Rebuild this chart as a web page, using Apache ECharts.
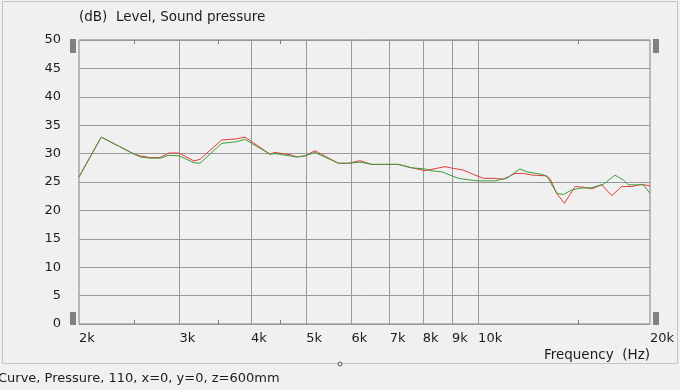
<!DOCTYPE html>
<html>
<head>
<meta charset="utf-8">
<script src="https://cdn.jsdelivr.net/npm/echarts@6/dist/echarts.min.js"></script>
<style>
html,body{margin:0;padding:0;background:#f0f0f0;}
#c{width:680px;height:390px;}
</style>
</head>
<body>
<div id="c"></div>
<script>
// Frequencies (Hz) and levels (dB)
var greenFreq = [2000, 2188, 2500, 2564, 2662, 2772, 2874, 2994, 3180, 3258, 3556, 3778, 3906, 4320, 4408, 4684, 4812, 4976, 5180, 5692, 5926, 6212, 6510, 7248, 7650, 8072, 8238, 8636, 8930, 9234, 9680, 10008, 10706, 11222, 11840, 12164, 12836, 13188, 13730, 14102, 14588, 15084, 15812, 16568, 17368, 17960, 18324, 19468, 20000];
var greenLevel = [25.9, 32.9, 29.9, 29.4, 29.2, 29.2, 29.7, 29.6, 28.4, 28.3, 31.8, 32.1, 32.5, 29.9, 30.0, 29.6, 29.4, 29.6, 30.2, 28.3, 28.3, 28.5, 28.1, 28.1, 27.5, 27.3, 27.0, 26.8, 26.2, 25.65, 25.35, 25.2, 25.2, 25.65, 27.3, 26.8, 26.4, 26.1, 23.0, 22.8, 23.6, 23.9, 24.0, 24.6, 26.2, 25.35, 24.5, 24.5, 23.0];
var redFreq = [2000, 2188, 2500, 2558, 2662, 2772, 2874, 2994, 3180, 3258, 3556, 3778, 3906, 4320, 4408, 4684, 4812, 4976, 5180, 5692, 5926, 6212, 6510, 7248, 7650, 8072, 8750, 9050, 9420, 9806, 10210, 10632, 11070, 11604, 12000, 12494, 13096, 13362, 13730, 14158, 14786, 15290, 15812, 16462, 17140, 17844, 18580, 19344, 20000];
var redLevel = [25.9, 32.9, 29.9, 29.6, 29.3, 29.3, 30.1, 30.1, 28.7, 29.0, 32.4, 32.6, 32.9, 29.9, 30.2, 29.8, 29.4, 29.6, 30.5, 28.3, 28.3, 28.75, 28.1, 28.1, 27.5, 27.0, 27.7, 27.4, 27.1, 26.35, 25.65, 25.65, 25.5, 26.5, 26.5, 26.2, 26.1, 25.6, 23.0, 21.25, 24.2, 24.1, 23.8, 24.5, 22.6, 24.2, 24.2, 24.6, 24.3];

var xLabelValues = [2000, 3000, 4000, 5000, 6000, 7000, 8000, 9000, 10000, 20000];
var xGridValues = [3000, 4000, 5000, 6000, 7000, 8000, 9000, 10000];
var xMinorTicks = [2500, 3500, 4500, 15000];
var yMin = 0, yMax = 50, yStep = 5;

var titleText = '(dB)  Level, Sound pressure';
var xAxisName = 'Frequency  (Hz)';
var footerText = 'Curve, Pressure, 110, x=0, y=0, z=600mm';

function zip(a, b) { return a.map(function (v, i) { return [v, b[i]]; }); }

var FONT = 'DejaVu Sans';
var TXT = '#1c1c1c';
var GRID = '#989898';

var chart = echarts.init(document.getElementById('c'), null, {renderer: 'canvas'});
var baseX = {type: 'log', logBase: 10, min: 2000, max: 20000, gridIndex: 0};
chart.setOption({
  backgroundColor: '#f0f0f0',
  animation: false,
  grid: {left: 79, right: 30, top: 40, bottom: 66, show: true, borderColor: '#808080', borderWidth: 1, backgroundColor: 'transparent'},
  xAxis: [
    Object.assign({}, baseX, {
      position: 'bottom',
      axisLine: {show: false},
      axisTick: {show: true, inside: true, length: 4, customValues: xMinorTicks, lineStyle: {color: '#808080'}},
      axisLabel: {show: true, customValues: xLabelValues, align: 'left', margin: 8, color: TXT, fontFamily: FONT, fontSize: 13,
        formatter: function (v) { return Math.round(v / 1000) + 'k'; }},
      splitLine: {show: false}
    }),
    Object.assign({}, baseX, {
      position: 'top',
      axisLine: {show: false},
      axisTick: {show: true, inside: true, length: 4, customValues: xMinorTicks, lineStyle: {color: '#808080'}},
      axisLabel: {show: false},
      splitLine: {show: false}
    }),
    Object.assign({}, baseX, {
      position: 'bottom',
      axisLine: {show: false},
      axisTick: {show: false, customValues: xGridValues},
      axisLabel: {show: false},
      splitLine: {show: true, lineStyle: {color: GRID, width: 1}}
    })
  ],
  yAxis: {
    type: 'value', min: yMin, max: yMax, interval: yStep,
    axisLine: {show: false}, axisTick: {show: false},
    axisLabel: {margin: 18, color: TXT, fontFamily: FONT, fontSize: 13},
    splitLine: {show: true, lineStyle: {color: GRID, width: 1}}
  },
  series: [
    {type: 'line', xAxisIndex: 0, data: zip(redFreq, redLevel), showSymbol: false, lineStyle: {color: '#e23c3c', width: 1}, z: 3},
    {type: 'line', xAxisIndex: 0, data: zip(greenFreq, greenLevel), showSymbol: false, lineStyle: {color: '#3c9e3c', width: 1}, z: 4}
  ],
  graphic: [
    {type: 'rect', shape: {x: 2.5, y: 1.5, width: 675, height: 362}, style: {fill: 'none', stroke: '#9a9a9a', lineWidth: 1, lineDash: [1, 1]}, silent: true},
    {type: 'circle', shape: {cx: 340, cy: 364, r: 2}, style: {fill: '#f0f0f0', stroke: '#555', lineWidth: 1}},
    {type: 'rect', shape: {x: 70, y: 39, width: 6, height: 14}, style: {fill: '#808080'}},
    {type: 'rect', shape: {x: 70, y: 312, width: 6, height: 13}, style: {fill: '#808080'}},
    {type: 'rect', shape: {x: 653, y: 39, width: 6, height: 14}, style: {fill: '#808080'}},
    {type: 'rect', shape: {x: 653, y: 312, width: 6, height: 13}, style: {fill: '#808080'}},
    {type: 'text', x: 79, y: 17, style: {text: titleText, fill: TXT, font: '13.5px "' + FONT + '"', textVerticalAlign: 'middle'}},
    {type: 'text', x: 650, y: 355, style: {text: xAxisName, fill: TXT, font: '13.5px "' + FONT + '"', textAlign: 'right', textVerticalAlign: 'middle'}},
    {type: 'text', x: -2, y: 379, style: {text: footerText, fill: TXT, font: '13px "' + FONT + '"', textVerticalAlign: 'middle'}}
  ]
});
</script>
</body>
</html>
